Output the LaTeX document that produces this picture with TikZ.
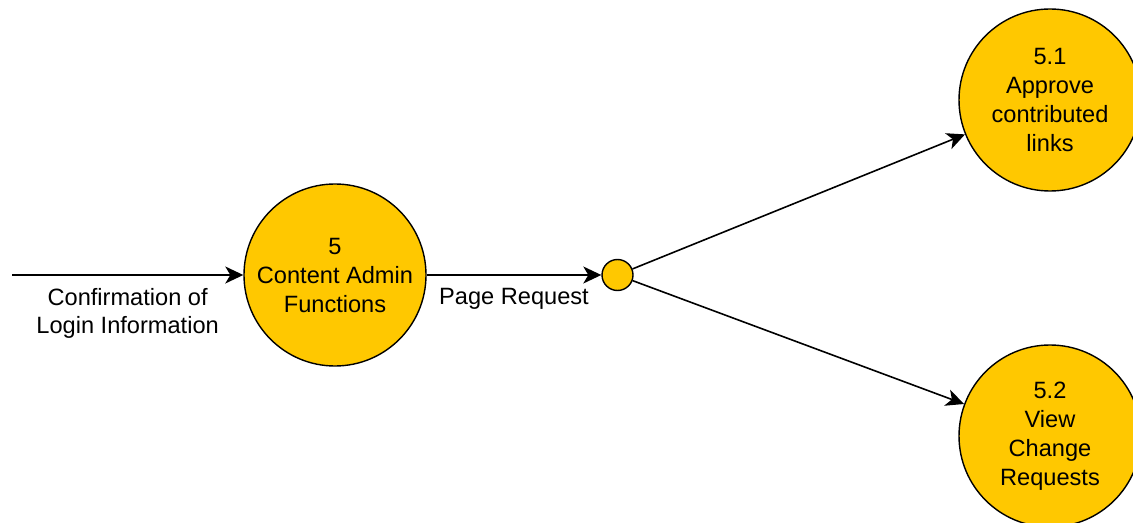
\documentclass[tikz,border=0pt]{standalone}
\usepackage{fontspec}
\setmainfont{Liberation Sans}
\usetikzlibrary{arrows.meta}
\definecolor{procfill}{HTML}{FFC800}
\tikzset{
  process/.style={circle,draw=black,fill=procfill,line width=0.7pt,minimum size=91pt,inner sep=0pt,align=center,font=\fontsize{11.8}{14.5}\selectfont},
  junction/.style={circle,draw=black,fill=procfill,line width=0.7pt,minimum size=15.5pt,inner sep=0pt},
  flow/.style={line width=0.8pt,-{Stealth[length=9pt,width=8.5pt,inset=2.5pt]}},
  flowlabel/.style={align=center,font=\fontsize{11.8}{14}\selectfont}
}
\begin{document}
\begin{tikzpicture}[x=0.5pt,y=-0.5pt]
\useasboundingbox (0,0) rectangle (1133,523);
\coordinate (src) at (12,275);
\node[process] (p5) at (335,275) {5\\Content Admin\\Functions};
\node[junction] (jn) at (617.5,275) {};
\node[process] (p51) at (1050,100) {5.1\\Approve\\contributed\\links};
\node[process] (p52) at (1050,436) {5.2\\View\\Change\\Requests};
\draw[flow] (src) -- node[flowlabel,below=3pt] {Confirmation of\\Login Information} (p5);
\draw[flow] (p5) -- node[flowlabel,below=3pt] {Page Request} (jn);
\draw[flow] (jn) -- (p51);
\draw[flow] (jn) -- (p52);
\end{tikzpicture}
\end{document}
